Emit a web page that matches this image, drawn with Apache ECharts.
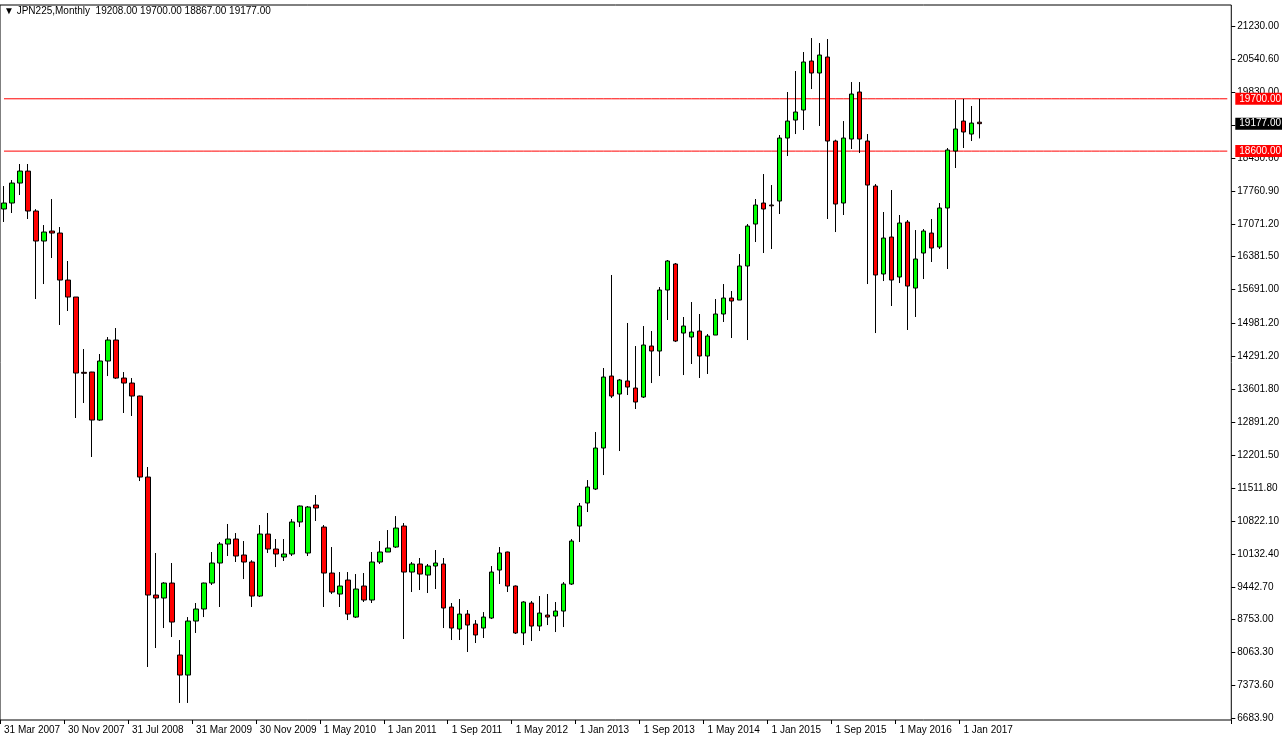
<!DOCTYPE html>
<html>
<head>
<meta charset="utf-8">
<script src="https://cdn.jsdelivr.net/npm/echarts@6/dist/echarts.min.js"></script>
<style>html,body{margin:0;padding:0;background:#fff}#main{width:1282px;height:741px}</style>
</head>
<body>
<div id="main"></div>
<script>
// monthly bars, [open, high, low, close]
var bars = [
  [17383,17866,17110,17509],[17509,17992,17299,17929],[17929,18329,17677,18181],[18180,18329,17173,17341],
  [17341,17380,15491,16710],[16710,17046,15806,16899],[16920,17593,16353,16878],[16878,17004,14945,15890],
  [15890,16290,15239,15533],[15533,15533,12990,13935],[13950,14440,13305,13930],[13956,13960,12170,12947],
  [12947,14335,12930,14188],[14188,14692,13872,14629],[14629,14881,13810,13830],[13830,13956,13095,13725],
  [13725,13830,13032,13452],[13452,13460,11665,11749],[11749,11960,7756,9269],[9269,10152,8155,9206],
  [9206,9540,8575,9521],[9521,9942,8386,8701],[8008,8323,7000,7587],[7587,8806,7000,8722],
  [8722,9101,8471,8975],[8975,9530,8806,9521],[9521,10173,9479,9942],[9942,10383,9017,10341],
  [10341,10762,10089,10446],[10446,10572,9963,10089],[10110,10404,9605,9963],[9963,10000,9017,9248],
  [9248,10740,9227,10551],[10551,10993,10152,10236],[10236,10446,9857,10131],[10068,10446,9984,10131],
  [10131,10867,10089,10804],[10804,11150,10698,11140],[10152,11140,10089,11119],[11161,11371,10825,11098],
  [10698,10740,9017,9731],[9731,10278,9290,9332],[9290,9752,9017,9458],[9584,9752,8743,8869],
  [8806,9710,8785,9395],[9458,9731,9122,9164],[9164,10173,9101,9963],[9963,10404,9921,10173],
  [10173,10635,10173,10257],[10278,10929,10257,10677],[10719,10782,8344,9752],[9752,9963,9332,9921],
  [9921,10047,9374,9710],[9689,9921,9311,9879],[9879,10215,9395,9942],[9921,10047,8575,8996],
  [9017,9101,8323,8575],[8554,9185,8323,8869],[8869,8954,8071,8638],[8659,8743,8260,8429],
  [8575,8911,8365,8806],[8785,9878,8764,9752],[9794,10278,9500,10152],[10173,10180,9332,9458],
  [9458,9470,8450,8471],[8471,9140,8218,9122],[9101,9143,8302,8617],[8617,9248,8512,8890],
  [8848,9290,8638,8806],[8827,9122,8491,8932],[8932,9542,8596,9500],[9500,10446,9480,10404],
  [10719,11203,10383,11140],[11203,11686,11014,11539],[11497,12696,11476,12359],[12359,14041,11791,13851],
  [13872,15996,13410,13452],[13494,13810,12296,13789],[13768,14987,13473,13641],[13620,14503,13179,13326],
  [13431,14923,13410,14524],[14503,14818,13725,14398],[14398,15743,13872,15680],[15680,16311,15050,16290],
  [16227,16248,14587,14608],[14776,15113,13893,14923],[14692,15428,14125,14797],[14818,15176,13831,14293],
  [14293,14755,13915,14713],[14734,15491,14734,15176],[15176,15806,15008,15512],[15512,15659,14671,15449],
  [15470,16437,15470,16185],[16185,17067,14629,17025],[17067,17593,16689,17467],[17509,18118,16458,17383],
  [17467,17887,16542,17450],[17551,18938,17278,18875],[18875,19842,18497,19232],[19253,20284,18959,19422],
  [19464,20683,19044,20473],[20494,20977,19905,20242],[20242,20872,19128,20620],[20578,20956,17173,18812],
  [18812,18840,16899,17488],[17509,19232,17257,18875],[18854,20052,18644,19800],[19842,20052,18560,18854],
  [18812,18959,15806,17887],[17866,17908,14776,15996],[16017,17320,15869,16773],[16794,17782,15344,15890],
  [15954,17257,15827,17088],[17109,17152,14840,15764],[15722,16941,15113,16332],[16458,16962,15911,16920],
  [16878,17173,16269,16563],[16584,17509,16542,17404],[17404,18665,16122,18623],[18602,19674,18245,19065],
  [19232,19700,18665,19002],[18959,19548,18812,19190],[19208,19700,18867,19177]
];
var dateLabels = ['31 Mar 2007','30 Nov 2007','31 Jul 2008','31 Mar 2009','30 Nov 2009','1 May 2010',
  '1 Jan 2011','1 Sep 2011','1 May 2012','1 Jan 2013','1 Sep 2013','1 May 2014','1 Jan 2015',
  '1 Sep 2015','1 May 2016','1 Jan 2017'];
var priceTicks = [6683.9,7373.6,8063.3,8753.0,9442.7,10132.4,10822.1,11511.8,12201.5,12891.2,13601.8,
  14291.2,14981.2,15691.0,16381.5,17071.2,17760.9,18450.6,19140.3,19830.0,20540.6,21230.0];
var levels = [19700, 18600];
var lastPrice = 19177;
var totalSlots = 154;

var cats = [];
for (var i = 0; i < totalSlots; i++) {
    cats.push(i % 8 === 0 && dateLabels[i / 8] ? dateLabels[i / 8] : '');
}
var candleData = bars.map(function (b) { return [b[0], b[3], b[2], b[1]]; });

var myChart = echarts.init(document.getElementById('main'));
var font = 'Liberation Sans';

// horizontal price line drawn as a flat line series, tag at its right end
function priceLine(value, lineColor, tagColor, showLine) {
    var vals = cats.map(function () { return value; });
    return {
        type: 'line', data: vals, symbol: 'none', silent: true, z: 1,
        lineStyle: { color: lineColor, width: 1, opacity: showLine ? 1 : 0 },
        endLabel: { show: true, formatter: value.toFixed(2), color: '#fff', backgroundColor: tagColor,
                    fontFamily: font, fontSize: 10, padding: [1, 4], distance: 8 }
    };
}

option = {
    backgroundColor: '#fff',
    animation: false,
    grid: { left: 0, right: 50, top: 5, bottom: 21, show: true, borderColor: '#000', borderWidth: 1 },
    graphic: [{
        type: 'text', left: 4, top: 6,
        style: { text: '\u25BC JPN225,Monthly  19208.00 19700.00 18867.00 19177.00', font: '10px ' + font, fill: '#000' }
    }],
    xAxis: {
        type: 'category', data: cats, boundaryGap: true,
        axisLine: { show: false },
        axisTick: { show: true, length: 4, lineStyle: { color: '#000' },
            interval: function (idx, v) { return v !== ''; } },
        axisLabel: { interval: 0, align: 'left', color: '#000', fontFamily: font, fontSize: 10, margin: 5 },
        splitLine: { show: false }
    },
    yAxis: {
        type: 'value', position: 'right', scale: true,
        min: 6641.9, max: 21671.4,
        axisLine: { show: false },
        axisTick: { show: true, length: 4, lineStyle: { color: '#000' }, customValues: priceTicks },
        axisLabel: { color: '#000', fontFamily: font, fontSize: 10, margin: 6, customValues: priceTicks,
            formatter: function (v) { return v.toFixed(2); } },
        splitLine: { show: false }
    },
    series: [
        priceLine(levels[0], '#ff0000', '#ff0000', true),
        priceLine(levels[1], '#ff0000', '#ff0000', true),
        priceLine(lastPrice, '#000', '#000', false),
        {
            type: 'candlestick',
            data: candleData,
            barWidth: 5, z: 3,
            itemStyle: { color: '#00ff00', color0: '#ff0000', borderColor: '#000', borderColor0: '#000', borderWidth: 1 }
        }
    ]
};

myChart.setOption(option);
</script>
</body>
</html>
